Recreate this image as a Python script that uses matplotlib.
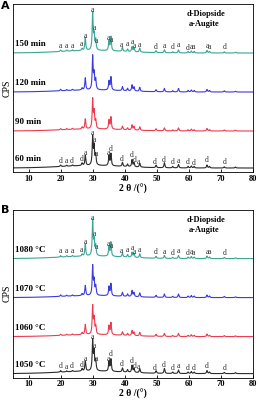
import numpy as np
import matplotlib.pyplot as plt

plt.rcParams['font.family'] = ['Liberation Serif', 'DejaVu Serif']

# peak positions (2 theta, deg) shared by all patterns
peak_pos = [19.9, 21.8, 23.6, 26.6, 27.6, 29.9, 30.35, 30.85, 35.0, 35.6,
            39.2, 40.8, 42.2, 42.8, 44.6, 49.7, 52.3, 54.9, 56.7, 59.7,
            60.7, 61.6, 65.6, 66.4, 71.0, 74.5]

# panel A: holding time
time_labels = ['60 min', '90 min', '120 min', '150 min']
time_int = [
    [1.5, 1.0, 1.0, 2.5, 10, 28, 18, 10, 10, 12, 4, 2.5, 7, 4, 4, 2.5, 5, 1.5, 3.5, 1.5, 2, 1.5, 3, 1.5, 1.2, 1.0],
    [1.2, 1.0, 1.0, 2.0, 10, 29, 16, 8, 9, 12, 3.5, 2, 5, 3.5, 3.5, 2, 3, 1, 3, 1.2, 1.8, 1.2, 2.5, 1.2, 1.0, 0.8],
    [1.5, 1.0, 1.0, 2.0, 12, 33, 15, 10, 9, 13, 4, 2.5, 6, 4, 4, 2, 3.5, 1.2, 3.5, 1.5, 2, 1.5, 2.5, 1.5, 1.2, 0.8],
    [1.5, 1.2, 1.0, 2.0, 13, 37, 14, 10, 10, 14, 4, 2.5, 5, 4, 4, 2, 3, 1.2, 3, 1.5, 2, 1.5, 2.5, 1.5, 1.2, 0.8],
]
time_hump = [2.5, 2.0, 2.0, 2.5]

# panel B: temperature
temp_labels = ['1050 °C', '1060 °C', '1070 °C', '1080 °C']
temp_int = [
    [1.5, 1.0, 1.0, 2.5, 10, 30, 18, 10, 10, 12, 4, 2.5, 7, 4, 4, 2.5, 5, 1.5, 3.5, 1.5, 2, 1.5, 3, 1.5, 1.2, 1.0],
    [1.2, 1.0, 1.0, 2.0, 10, 28, 15, 8, 9, 12, 3.5, 2, 5, 3.5, 3.5, 2, 3, 1, 3, 1.2, 1.8, 1.2, 2.5, 1.2, 1.0, 0.8],
    [1.5, 1.0, 1.0, 2.0, 10, 29, 14, 9, 9, 12, 4, 2.5, 6, 4, 4, 2, 3.5, 1.2, 3.5, 1.5, 2, 1.5, 2.5, 1.5, 1.2, 0.8],
    [1.5, 1.2, 1.0, 2.0, 12, 35, 14, 10, 10, 14, 4, 2.5, 5, 4, 4, 2, 3, 1.2, 3, 1.5, 2, 1.5, 2.5, 1.5, 1.2, 0.8],
]
temp_hump = [2.5, 2.0, 2.0, 2.5]

offsets = [4, 41, 80, 119]
colors = ['#2b2b2b', '#ee3a4e', '#3b3bdc', '#3aa596']

# phase marks (2 theta, letter)
marks_top = [(19.8, 'a'), (21.7, 'a'), (23.5, 'a'), (26.5, 'a'), (27.5, 'a'), (29.85, 'a'),
             (30.4, 'a'), (31.1, 'a'), (34.9, 'a'), (35.8, 'a'), (39.0, 'a'), (40.8, 'a'),
             (42.2, 'a'), (43.1, 'a'), (44.5, 'a'), (49.6, 'd'), (52.2, 'a'), (54.8, 'd'),
             (56.7, 'a'), (59.5, 'd'), (60.6, 'a'), (61.5, 'a'), (65.6, 'a'), (66.4, 'a'), (71.0, 'd')]
marks_bottom = [(19.8, 'd'), (21.7, 'a'), (23.5, 'd'), (26.5, 'd'), (27.5, 'a'), (29.85, 'a'),
                (30.4, 'a'), (31.0, 'a'), (34.9, 'a'), (35.6, 'd'), (39.1, 'd'), (42.2, 'd'),
                (43.0, 'd'), (44.3, 'a'), (49.4, 'd'), (52.2, 'd'), (54.8, 'd'), (56.6, 'a'),
                (59.6, 'd'), (61.4, 'd'), (65.6, 'd'), (71.0, 'd')]

two_theta = np.arange(5, 80.001, 0.02)


def pattern(x, heights, hump):
    y = np.zeros_like(x)
    for p, h in zip(peak_pos, heights):
        y += h / (1 + ((x - p) / 0.17) ** 2)
    y += hump * np.exp(-((x - 30) / 14) ** 2)
    return y


def draw_panel(ax, labels, intens, humps):
    curves = []
    for lab, hts, hmp, off, c in zip(labels, intens, humps, offsets, colors):
        y = pattern(two_theta, hts, hmp) + off
        ax.plot(two_theta, y, color=c, lw=0.8)
        ax.text(5.6, off + 5, lab, fontsize=6.5, fontweight='bold', va='bottom', ha='left')
        curves.append(y)
    for marks, y in ((marks_bottom, curves[0]), (marks_top, curves[-1])):
        for x0, m in marks:
            yv = np.interp(x0, two_theta, y)
            ax.text(x0, yv + 0.5, m, fontsize=5.5, ha='center', va='bottom', color='#333333')
    ax.text(59.3, 158, 'd-Diopside', fontsize=6, fontweight='bold', va='center')
    ax.text(59.8, 148, 'a-Augite', fontsize=6, fontweight='bold', va='center')
    ax.set_xlim(5, 80)
    ax.set_ylim(0, 168)
    ax.set_yticks([])
    ax.set_xticks(range(10, 81, 10))
    ax.tick_params(axis='x', direction='in', length=2.5, width=0.6, labelsize=6, pad=2)
    for t in ax.get_xticklabels():
        t.set_fontweight('bold')
    for s in ax.spines.values():
        s.set_linewidth(0.6)
    ax.set_xlabel('2 θ /(°)', fontsize=7, fontweight='bold', labelpad=0.5)
    ax.set_ylabel('CPS', fontsize=7, labelpad=1)


fig = plt.figure(figsize=(2.58, 4.0), dpi=100)
axA = fig.add_axes([0.050, 0.57, 0.931, 0.42])
axB = fig.add_axes([0.050, 0.056, 0.931, 0.42])
draw_panel(axA, time_labels, time_int, time_hump)
draw_panel(axB, temp_labels, temp_int, temp_hump)
fig.text(0.002, 0.998, 'A', fontsize=8, fontweight='bold', family='DejaVu Sans', ha='left', va='top')
fig.text(0.002, 0.488, 'B', fontsize=8, fontweight='bold', family='DejaVu Sans', ha='left', va='top')

fig.savefig('out.png', dpi=100)
